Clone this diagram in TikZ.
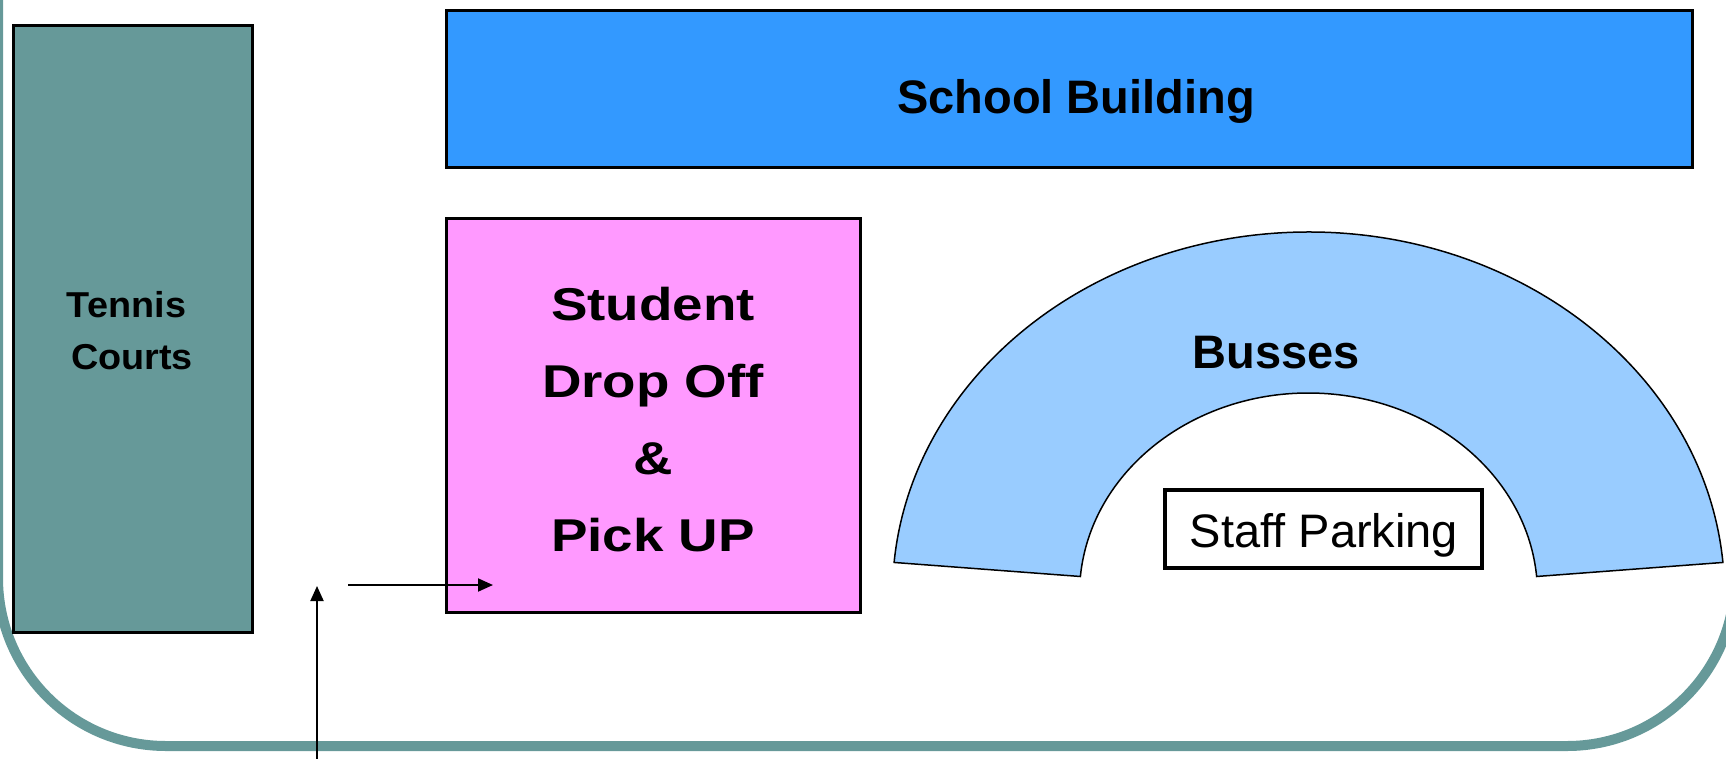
\documentclass[tikz,border=0pt]{standalone}
\usepackage{fontspec}
\setmainfont{Liberation Sans}
\usetikzlibrary{arrows.meta}
\definecolor{courtteal}{HTML}{669999}
\definecolor{schoolblue}{HTML}{3399FF}
\definecolor{dropink}{HTML}{FF99FF}
\definecolor{busblue}{HTML}{99CCFF}
\begin{document}
\begin{tikzpicture}[x=1pt,y=-1pt,
  area/.style={draw=black, line width=3pt, inner sep=0pt},
  walk/.style={line width=2pt, -{Triangle[length=15pt,width=13pt]}},
  courtfont/.style={font=\fontsize{36}{40}\selectfont\bfseries, anchor=base},
  boldfont/.style={font=\fontsize{47}{52}\selectfont\bfseries, anchor=base},
  dropfont/.style={font=\fontsize{46}{52}\selectfont\bfseries, anchor=base}]
\useasboundingbox (0,0) rectangle (1726,758);

%Rounded border of the grounds
\draw [courtteal, line width=10pt, rounded corners=168pt] (-2,-300) rectangle (1735,746);

%Tennis Courts
\node [area, fill=courtteal, minimum width=239, minimum height=607] (courts) at (132.5,328.5) {};
\node [courtfont] (tennis) at (126.5,317) {\scalebox{1.05}[1]{Tennis}};
\node [courtfont] (courtstxt) at (132,369) {\scalebox{1.05}[1]{Courts}};

%School Building
\node [area, fill=schoolblue, minimum width=1246, minimum height=157] (school) at (1069,89) {};
\node [boldfont] (schooltxt) at (1076,113) {School Building};

%Student Drop Off & Pick UP
\node [area, fill=dropink, minimum width=414, minimum height=394] (drop) at (653,415) {};
\foreach \txt [count=\i] in {Student, Drop Off, \&, Pick UP}
  \node [dropfont] (drop\i) at (653,243+77*\i) {\scalebox{1.19}[1]{\txt}};

%Busses
\coordinate (arch) at (1308.5,594);
\draw [fill=busblue, line width=1.5pt] ([shift={(-5:416 and 362)}]arch)
  arc [start angle=-5, end angle=-175, x radius=416, y radius=362]
  -- ([shift={(-175:229 and 201)}]arch)
  arc [start angle=-175, end angle=-5, x radius=229, y radius=201] -- cycle;
\node [boldfont] (busses) at (1276.5,368) {Busses};

%Staff Parking
\node [area, line width=4pt, fill=white, minimum width=317, minimum height=78] (staff) at (1323.5,529) {};
\node [boldfont, font=\fontsize{47}{52}\selectfont] (stafftxt) at (1324,547) {Staff Parking};

%Walking arrows
\coordinate (gate) at (317,760);
\coordinate (gatetop) at (317,586);
\coordinate (pathstart) at (348,585);
\coordinate (pathend) at (493,585);
\draw [walk] (gate) -- (gatetop);
\draw [walk] (pathstart) -- (pathend);

\end{tikzpicture}
\end{document}
